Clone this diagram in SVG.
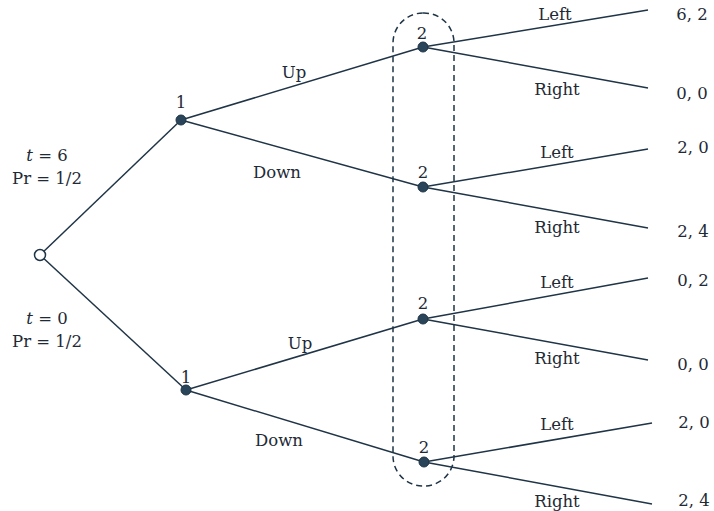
<svg xmlns="http://www.w3.org/2000/svg" width="714" height="511" viewBox="0 0 714 511">
<style>
text{font-family:"DejaVu Serif","Liberation Serif",serif;font-size:16.5px;fill:#1e2a36;text-anchor:middle}
.e{stroke:#1f3446;stroke-width:1.5;fill:none}
.n{fill:#2a4559;stroke:#1f3446;stroke-width:1}
</style>
<rect width="714" height="511" fill="#ffffff"/>
<g id="connectors">
<line class="e" x1="40" y1="255" x2="181" y2="120"/>
<line class="e" x1="40" y1="255" x2="186" y2="390"/>
<line class="e" x1="181" y1="120" x2="423" y2="47"/>
<line class="e" x1="181" y1="120" x2="423" y2="187"/>
<line class="e" x1="186" y1="390" x2="423" y2="319"/>
<line class="e" x1="186" y1="390" x2="424" y2="462"/>
<line class="e" x1="423" y1="47" x2="648" y2="10"/>
<line class="e" x1="423" y1="47" x2="648" y2="88"/>
<line class="e" x1="423" y1="187" x2="648" y2="149"/>
<line class="e" x1="423" y1="187" x2="648" y2="228"/>
<line class="e" x1="423" y1="319" x2="648" y2="278"/>
<line class="e" x1="423" y1="319" x2="648" y2="360"/>
<line class="e" x1="424" y1="462" x2="652" y2="423"/>
<line class="e" x1="424" y1="462" x2="652" y2="504"/>
<text x="294" y="78">Up</text>
<text x="277" y="178">Down</text>
<text x="300" y="349">Up</text>
<text x="279" y="446">Down</text>
<text x="555" y="20">Left</text>
<text x="557" y="95">Right</text>
<text x="557" y="158">Left</text>
<text x="557" y="233">Right</text>
<text x="557" y="288">Left</text>
<text x="557" y="364">Right</text>
<text x="557" y="430">Left</text>
<text x="557" y="507">Right</text>
</g>
<g id="info-set">
<rect x="393" y="13" width="61" height="473" rx="30" ry="30" fill="none" stroke="#1f3446" stroke-width="1.5" stroke-dasharray="6,4"/>
</g>
<g id="chance">
<circle cx="40" cy="255" r="5.5" fill="#ffffff" stroke="#1f3446" stroke-width="1.5"/>
<text x="47" y="161"><tspan font-style="italic">t</tspan> = 6</text>
<text x="47" y="184">Pr = 1/2</text>
<text x="47" y="324"><tspan font-style="italic">t</tspan> = 0</text>
<text x="47" y="347">Pr = 1/2</text>
</g>
<g id="p1-top"><circle class="n" cx="181" cy="120" r="5"/><text x="181" y="108">1</text></g>
<g id="p1-bottom"><circle class="n" cx="186" cy="390" r="5"/><text x="186" y="383">1</text></g>
<g id="p2-a"><circle class="n" cx="423" cy="47" r="5"/><text x="422" y="39">2</text></g>
<g id="p2-b"><circle class="n" cx="423" cy="187" r="5"/><text x="423" y="178">2</text></g>
<g id="p2-c"><circle class="n" cx="423" cy="319" r="5"/><text x="423" y="309">2</text></g>
<g id="p2-d"><circle class="n" cx="424" cy="462" r="5"/><text x="424" y="453">2</text></g>
<g id="payoffs">
<text x="692" y="20">6, 2</text>
<text x="692" y="99">0, 0</text>
<text x="693" y="153">2, 0</text>
<text x="693" y="237">2, 4</text>
<text x="693" y="286">0, 2</text>
<text x="693" y="370">0, 0</text>
<text x="694" y="428">2, 0</text>
<text x="694" y="506">2, 4</text>
</g>
</svg>
